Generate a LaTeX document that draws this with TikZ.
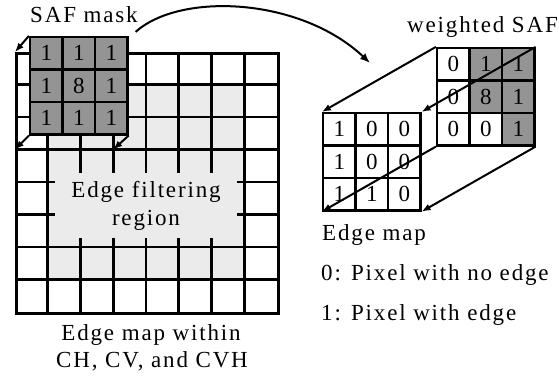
\documentclass[tikz,border=0pt]{standalone}
\usepackage{fontspec}
\setmainfont{Liberation Serif}[LetterSpace=8]
\usetikzlibrary{arrows.meta}
\definecolor{maskgray}{gray}{0.58}
\definecolor{lightstip}{gray}{0.92}
\begin{document}
\begin{tikzpicture}[x=1pt,y=-1pt,
  txt/.style={font=\fontsize{23}{27}\selectfont, inner sep=0pt},
  gridline/.style={line width=2.7pt},
  maskcell/.style={draw, line width=2.2pt, fill=maskgray, minimum width=32.5pt, minimum height=32.5pt, inner sep=0pt, font=\fontsize{23}{27}\selectfont},
  wcell/.style={draw, line width=2.2pt, fill=white, minimum width=32.5pt, minimum height=32.5pt, inner sep=0pt, font=\fontsize{23}{27}\selectfont},
  garrow/.style={line width=2pt, -{Latex[length=9pt,width=7pt]}}]
\useasboundingbox (0,0) rectangle (559,380);
% big grid
\fill[lightstip] (47.75,84.5) rectangle (244.25,279.5);
\node[draw, gridline, minimum width=262pt, minimum height=260pt, anchor=north west, inner sep=0pt] (big) at (15,52) {};
\foreach \x in {47.75,80.5,113.25,146,178.75,211.5,244.25}
  \draw[gridline] (\x,52) -- (\x,312);
\foreach \y in {84.5,117,149.5,182,214.5,247,279.5}
  \draw[gridline] (15,\y) -- (277,\y);
\fill[lightstip] (55,173) rectangle (237,238);
\node[txt, anchor=base] (efr1) at (146,197) {Edge filtering};
\node[txt, anchor=base] (efr2) at (146,225) {region};
\node[txt, anchor=base] (cap1) at (151,340) {Edge map within};
\node[txt, anchor=base] (cap2) at (152,367) {CH, CV, and CVH};
\coordinate (g31) at (15,149.5);
\coordinate (g33) at (113.25,149.5);
% SAF mask
\node[maskcell] (m11) at (46.25,53.25) {1};
\node[maskcell] (m12) at (78.75,53.25) {1};
\node[maskcell] (m13) at (111.25,53.25) {1};
\node[maskcell] (m21) at (46.25,85.75) {1};
\node[maskcell] (m22) at (78.75,85.75) {8};
\node[maskcell] (m23) at (111.25,85.75) {1};
\node[maskcell] (m31) at (46.25,118.25) {1};
\node[maskcell] (m32) at (78.75,118.25) {1};
\node[maskcell] (m33) at (111.25,118.25) {1};
\node[txt, anchor=base west] (saf) at (30,22) {SAF mask};
\draw[garrow] (m11.north west) -- (big.north west);
\draw[garrow] (m31.south west) -- (g31);
\draw[garrow] (m33.south east) -- (g33);
% curved arrow
\coordinate (tgt) at (370,63);
\draw[line width=2pt, -{Latex[length=10pt,width=8pt]}] ([xshift=7pt,yshift=4pt]m13.north east) .. controls (180,-8) and (300,-3) .. (tgt);
% weighted SAF
\node[txt, anchor=base west] (wsaf) at (407,32) {weighted SAF};
\node[wcell] (w11) at (453.25,64.25) {0};
\node[wcell, fill=maskgray] (w12) at (485.75,64.25) {1};
\node[wcell, fill=maskgray] (w13) at (518.25,64.25) {1};
\node[wcell] (w21) at (453.25,96.75) {0};
\node[wcell, fill=maskgray] (w22) at (485.75,96.75) {8};
\node[wcell, fill=maskgray] (w23) at (518.25,96.75) {1};
\node[wcell] (w31) at (453.25,129.25) {0};
\node[wcell] (w32) at (485.75,129.25) {0};
\node[wcell, fill=maskgray] (w33) at (518.25,129.25) {1};
% edge map
\node[wcell] (e11) at (339.25,129.25) {1};
\node[wcell] (e12) at (371.75,129.25) {0};
\node[wcell] (e13) at (404.25,129.25) {0};
\node[wcell] (e21) at (339.25,161.75) {1};
\node[wcell] (e22) at (371.75,161.75) {0};
\node[wcell] (e23) at (404.25,161.75) {0};
\node[wcell] (e31) at (339.25,194.25) {1};
\node[wcell] (e32) at (371.75,194.25) {1};
\node[wcell] (e33) at (404.25,194.25) {0};
\draw[garrow] (w11.north west) -- (e11.north west);
\draw[garrow] (w13.north east) -- (e13.north east);
\draw[garrow] (w31.south west) -- (e31.south west);
\draw[garrow] (w33.south east) -- (e33.south east);
\node[txt, anchor=base west] (em) at (322,240) {Edge map};
\node[txt, anchor=base west] (l0) at (321,280) {0: Pixel with no edge};
\node[txt, anchor=base west] (l1) at (321,320) {1: Pixel with edge};
\end{tikzpicture}
\end{document}
